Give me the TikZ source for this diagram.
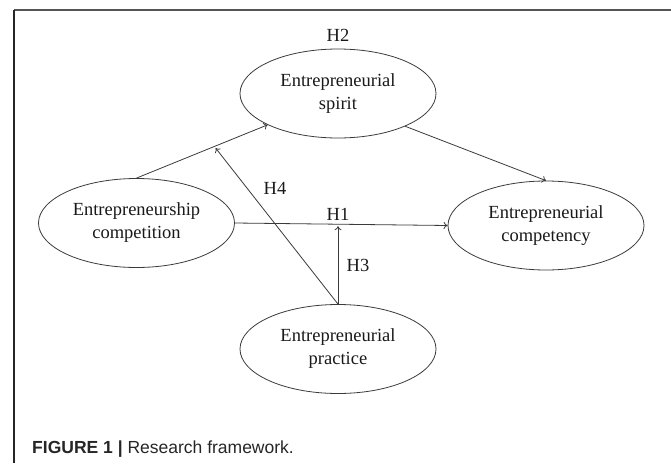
\documentclass[tikz,border=0pt]{standalone}
\usepackage{fontspec}
\setmainfont{Liberation Serif}
\newfontfamily\capfont{Liberation Sans}
\usetikzlibrary{shapes.geometric,arrows.meta,calc}
\definecolor{linegray}{HTML}{3a3a3a}
\definecolor{framegray}{HTML}{555555}
\tikzset{
  construct/.style={ellipse, draw=linegray, line width=0.8pt, minimum width=196pt, minimum height=89pt,
    inner sep=0pt, align=center, text=black!90, font=\fontsize{18.5}{23}\selectfont},
  hlabel/.style={text=black!90, font=\fontsize{18.5}{21}\selectfont, inner sep=0pt},
  conn/.style={draw=linegray, line width=0.8pt, -{To[length=4pt,width=7pt]}},
  plain/.style={draw=linegray, line width=0.8pt}
}
\begin{document}
\begin{tikzpicture}[x=1pt,y=-1pt]
\useasboundingbox (0,0) rectangle (671,463);
% frame
\draw[framegray, line width=1.3pt] (14,10) -- (671,10);
\draw[black!85, line width=1.3pt] (14,10) -- (14,463);
% constructs
\node[construct] (spirit) at (338,93.5) {Entrepreneurial\\spirit};
\node[construct] (competition) at (136.5,223) {Entrepreneurship\\competition};
\node[construct] (competency) at (546,225.5) {Entrepreneurial\\competency};
\node[construct] (practice) at (338,349) {Entrepreneurial\\practice};
% labels
\node[hlabel] (h2) at (338,35) {H2};
\node[hlabel] (h4) at (275,188) {H4};
\node[hlabel] (h1) at (338,214) {H1};
\node[hlabel] (h3) at (358,265) {H3};
% connectors
\draw[conn] (competition.north) -- (spirit.204);
\draw[conn] (spirit.-26) -- (competency.north);
\draw[conn] (competition.east) -- (competency.west);
\coordinate (h3end) at ($(competition.east)!0.48!(competency.west)$);
\draw[conn, shorten >=2pt] (practice.north) -- (practice.north |- h3end);
\coordinate (h4end) at ($(competition.north)!0.594!(spirit.204)$);
\draw[conn, shorten >=2pt] (practice.north) -- (h4end);
% caption
\node[anchor=base west, inner sep=0pt, text=black!85, font=\capfont\fontsize{17.5}{20}\selectfont] (cap) at (32,453)
  {\textbf{FIGURE 1} \textbf{|} Research framework.};
\end{tikzpicture}
\end{document}
